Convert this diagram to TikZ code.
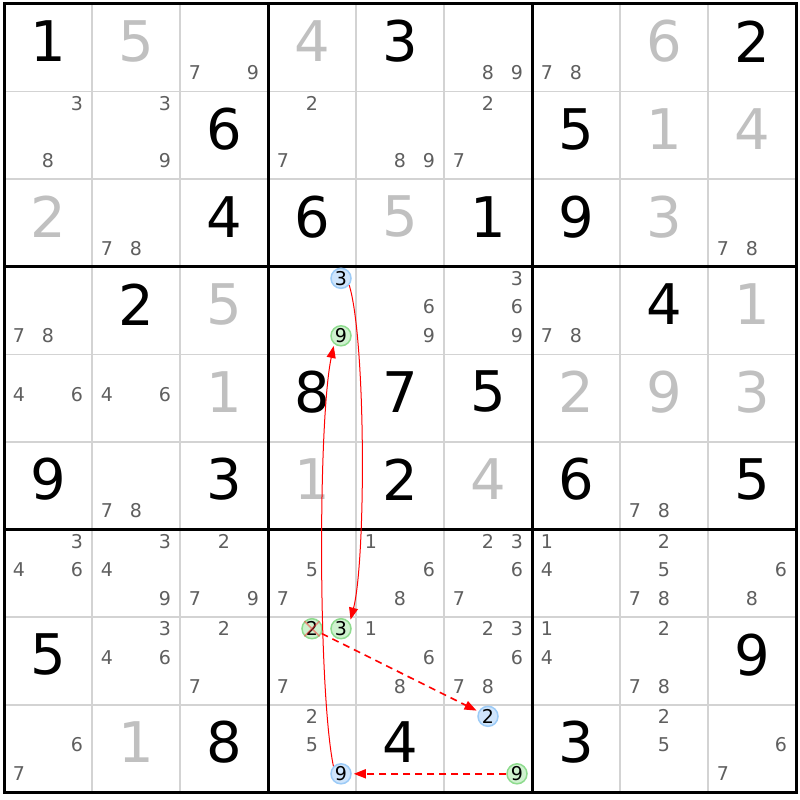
\documentclass[tikz,border=0pt]{standalone}
\usepackage{fontspec}
\setmainfont{DejaVu Sans}
\usetikzlibrary{arrows.meta}
\definecolor{solvedgray}{HTML}{C0C0C0}
\definecolor{candgray}{HTML}{5F5F5F}
\definecolor{thingray}{HTML}{D3D3D3}
\definecolor{onfill}{HTML}{CFE5FC}
\definecolor{ondraw}{HTML}{9CCBF7}
\definecolor{offfill}{HTML}{CFF2CF}
\definecolor{offdraw}{HTML}{8EDB8E}

\begin{document}
\begin{tikzpicture}[x=1pt,y=-1pt,
  given/.style={inner sep=0pt,font=\fontsize{56}{56}\selectfont},
  solved/.style={given,text=solvedgray},
  cand/.style={inner sep=0pt,text=candgray,font=\fontsize{19}{19}\selectfont},
  onmark/.style={circle,inner sep=0pt,minimum size=20pt,line width=1.5pt,draw=ondraw,fill=onfill,font=\fontsize{19}{19}\selectfont},
  offmark/.style={onmark,draw=offdraw,fill=offfill},
  link/.style={draw=red,line width=1pt,-{Triangle[length=12pt,width=9pt]}},
  weaklink/.style={link,line width=1.6pt,dash pattern=on 7pt off 5pt}]
%Grid
\fill[white] (0,0) rectangle (800,800);
\foreach \i in {1,...,8} {
  \draw[thingray,line width=1.5pt] ({4+88*\i},4) -- ({4+88*\i},792.4);
  \draw[thingray,line width=1.5pt] (4,{4+87.6*\i}) -- (796,{4+87.6*\i});
}
\foreach \i in {3,6} {
  \draw[line width=3pt] ({4+88*\i},4) -- ({4+88*\i},792.4);
  \draw[line width=3pt] (4,{4+87.6*\i}) -- (796,{4+87.6*\i});
}
\draw[line width=3pt] (4,4) rectangle (796,792.4);
%Digits
\foreach \r/\c/\d in {1/1/1,1/5/3,1/9/2,2/3/6,2/7/5,3/3/4,3/4/6,3/6/1,3/7/9,
  4/2/2,4/8/4,5/4/8,5/5/7,5/6/5,6/1/9,6/3/3,6/5/2,6/7/6,6/9/5,
  8/1/5,8/9/9,9/3/8,9/5/4,9/7/3}
  \node[given] (g-\r-\c) at ({48+88*(\c-1)},{41.5+87.6*(\r-1)}) {\d};
\foreach \r/\c/\d in {1/2/5,1/4/4,1/8/6,2/8/1,2/9/4,3/1/2,3/5/5,3/8/3,4/3/5,
  4/9/1,5/3/1,5/7/2,5/8/9,5/9/3,6/4/1,6/6/4,9/2/1}
  \node[solved] (g-\r-\c) at ({48+88*(\c-1)},{41.5+87.6*(\r-1)}) {\d};
%Candidates
\foreach \r/\c/\ks in {1/3/{7,9},1/6/{8,9},1/7/{7,8},2/1/{3,8},2/2/{3,9},2/4/{2,7},
  2/5/{8,9},2/6/{2,7},3/2/{7,8},3/9/{7,8},4/1/{7,8},4/5/{6,9},4/6/{3,6,9},4/7/{7,8},
  5/1/{4,6},5/2/{4,6},6/2/{7,8},6/8/{7,8},7/1/{3,4,6},7/2/{3,4,9},7/3/{2,7,9},
  7/4/{5,7},7/5/{1,6,8},7/6/{2,3,6,7},7/7/{1,4},7/8/{2,5,7,8},7/9/{6,8},
  8/2/{3,4,6},8/3/{2,7},8/4/{7},8/5/{1,6,8},8/6/{2,3,6,7,8},8/7/{1,4},8/8/{2,7,8},
  9/1/{6,7},9/4/{2,5},9/8/{2,5},9/9/{6,7}} {
  \foreach \k in \ks
    \node[cand] (k-\r-\c-\k) at ({19+88*(\c-1)+29*mod(\k-1,3)},{15.5+87.6*(\r-1)+28.75*int((\k-1)/3)}) {\k};
}
%Marked candidates
\node[onmark] (k-4-4-3) at (341,278.3) {3};
\node[offmark] (k-4-4-9) at (341,335.8) {9};
\node[offmark] (k-8-4-2) at (312,628.7) {2};
\node[offmark] (k-8-4-3) at (341,628.7) {3};
\node[onmark] (k-9-4-9) at (341,773.8) {9};
\node[onmark] (k-9-6-2) at (488,716.3) {2};
\node[offmark] (k-9-6-9) at (517,773.8) {9};
\draw[red!80,opacity=0.5,line width=1.5pt] (k-8-4-2.north west) -- (k-8-4-2.south east)
  (k-8-4-2.north east) -- (k-8-4-2.south west);
%Links
\draw[link,shorten >=3pt] (k-4-4-3.-40) .. controls (366,340) and (366,560) .. (k-8-4-3.35);
\draw[link,shorten >=2pt] (k-9-4-9.135) .. controls (318,690) and (318,420) .. (k-4-4-9.-130);
\draw[weaklink,shorten >=2pt] (k-8-4-2) -- (k-9-6-2);
\draw[weaklink,shorten >=2pt] (k-9-6-9) -- (k-9-4-9);
\end{tikzpicture}
\end{document}
